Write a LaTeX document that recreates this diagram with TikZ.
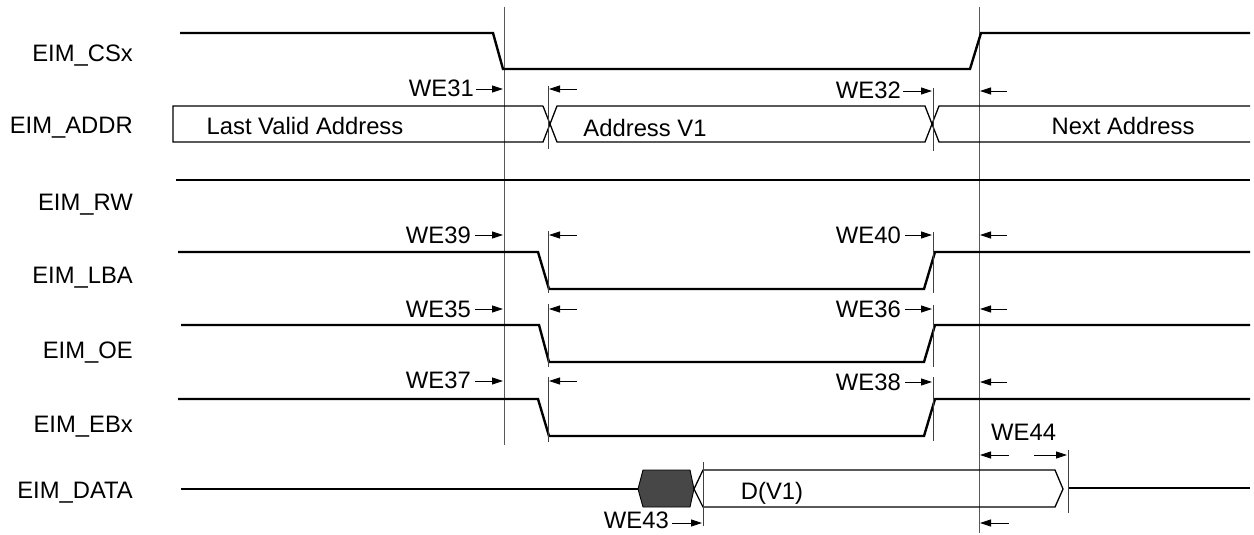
\documentclass[tikz,border=0pt]{standalone}
\usepackage{fontspec}
\setmainfont{Liberation Sans}
\usetikzlibrary{arrows.meta}
\begin{document}
\begin{tikzpicture}[x=1pt,y=-1pt,
  sig/.style={line width=2.4pt, line join=miter},
  bus/.style={line width=1.3pt},
  vline/.style={line width=0.9pt, black!65},
  tick/.style={line width=0.9pt, black!75},
  meas/.style={line width=0.8pt, -{Triangle[length=11pt,width=7pt]}},
  lbl/.style={font=\fontsize{23.8}{28}\selectfont, inner sep=0pt}]
\useasboundingbox[fill=white] (0,0) rectangle (1254,535);

% signal names
\node[lbl, anchor=base east] (ncs)   at (133,62)  {EIM\_CSx};
\node[lbl, anchor=base east] (naddr) at (133,133) {EIM\_ADDR};
\node[lbl, anchor=base east] (nrw)   at (133,210) {EIM\_RW};
\node[lbl, anchor=base east] (nlba)  at (133,283) {EIM\_LBA};
\node[lbl, anchor=base east] (noe)   at (133,358) {EIM\_OE};
\node[lbl, anchor=base east] (nebx)  at (133,432) {EIM\_EBx};
\node[lbl, anchor=base east] (ndata) at (133,498) {EIM\_DATA};

% vertical reference lines
\draw[vline] (504,7) -- (504,445);
\draw[vline] (979,7) -- (979,533);

% EIM_CSx
\draw[sig] (180,33) -- (493,33) -- (503,69) -- (970,69) -- (981,33) -- (1250,33);

% EIM_ADDR
\draw[bus] (543,106) -- (173,106) -- (173,142) -- (543,142) -- (557,106) -- (925,106) -- (939,142) -- (1250,142);
\draw[bus] (543,106) -- (557,142) -- (925,142) -- (939,106) -- (1250,106);
\node[lbl, anchor=base] (tlast) at (305,135) {Last Valid Address};
\node[lbl, anchor=base] (tv1)   at (645,136) {Address V1};
\node[lbl, anchor=base] (tnext) at (1123,134) {Next Address};

% EIM_RW
\draw[sig] (176,180) -- (1250,180);

% EIM_LBA
\draw[sig] (178,252) -- (538,252) -- (549,289) -- (924,289) -- (935,252) -- (1250,252);
% EIM_OE
\draw[sig] (181,325) -- (539,325) -- (549,362) -- (924,362) -- (935,325) -- (1250,325);
% EIM_EBx
\draw[sig] (178,399) -- (538,399) -- (549,436) -- (924,436) -- (935,399) -- (1250,399);

% EIM_DATA
\draw[sig] (181,489) -- (638,489);
\filldraw[fill=black!72, draw=black, line width=0.9pt] (638,489) -- (643,470) -- (690,470) -- (694,489) -- (690,507) -- (643,507) -- cycle;
\draw[bus] (694,489) -- (703,470) -- (1055,470) -- (1063,489) -- (1055,507) -- (703,507) -- cycle;
\draw[sig] (1068,488) -- (1250,488);
\node[lbl, anchor=base] (tdv1) at (772,499) {D(V1)};

% ticks
\draw[tick] (548,86)  -- (548,149);
\draw[tick] (933,88)  -- (933,151);
\draw[tick] (548,231) -- (548,293);
\draw[tick] (933,232) -- (933,293);
\draw[tick] (548,304) -- (548,367);
\draw[tick] (933,305) -- (933,367);
\draw[tick] (548,377) -- (548,442);
\draw[tick] (933,377) -- (933,441);
\draw[tick] (703,462) -- (703,526);
\draw[tick] (1068,450) -- (1068,513);

% timing labels and arrows
\node[lbl, anchor=base east] (we31) at (474,96) {WE31};
\draw[meas] (476,89) -- (503,89);
\draw[meas] (577,89) -- (549,89);
\node[lbl, anchor=base east] (we32) at (901,99) {WE32};
\draw[meas] (903,91) -- (932,91);
\draw[meas] (1007,91) -- (980,91);

\node[lbl, anchor=base east] (we39) at (471,243) {WE39};
\draw[meas] (475,235) -- (503,235);
\draw[meas] (577,235) -- (549,235);
\node[lbl, anchor=base east] (we40) at (901,243) {WE40};
\draw[meas] (905,235) -- (932,235);
\draw[meas] (1007,235) -- (980,235);

\node[lbl, anchor=base east] (we35) at (471,317) {WE35};
\draw[meas] (475,309) -- (503,309);
\draw[meas] (577,309) -- (549,309);
\node[lbl, anchor=base east] (we36) at (901,317) {WE36};
\draw[meas] (905,309) -- (932,309);
\draw[meas] (1007,309) -- (980,309);

\node[lbl, anchor=base east] (we37) at (471,388) {WE37};
\draw[meas] (475,381) -- (503,381);
\draw[meas] (577,381) -- (549,381);
\node[lbl, anchor=base east] (we38) at (901,390) {WE38};
\draw[meas] (905,382) -- (932,382);
\draw[meas] (1007,382) -- (980,382);

\node[lbl, anchor=base east] (we43) at (669,528) {WE43};
\draw[meas] (672,523) -- (702,523);

\node[lbl, anchor=base west] (we44) at (991,440) {WE44};
\draw[meas] (1009,455) -- (980,455);
\draw[meas] (1034,455) -- (1067,455);
\draw[meas] (1009,523) -- (980,523);
\end{tikzpicture}
\end{document}
